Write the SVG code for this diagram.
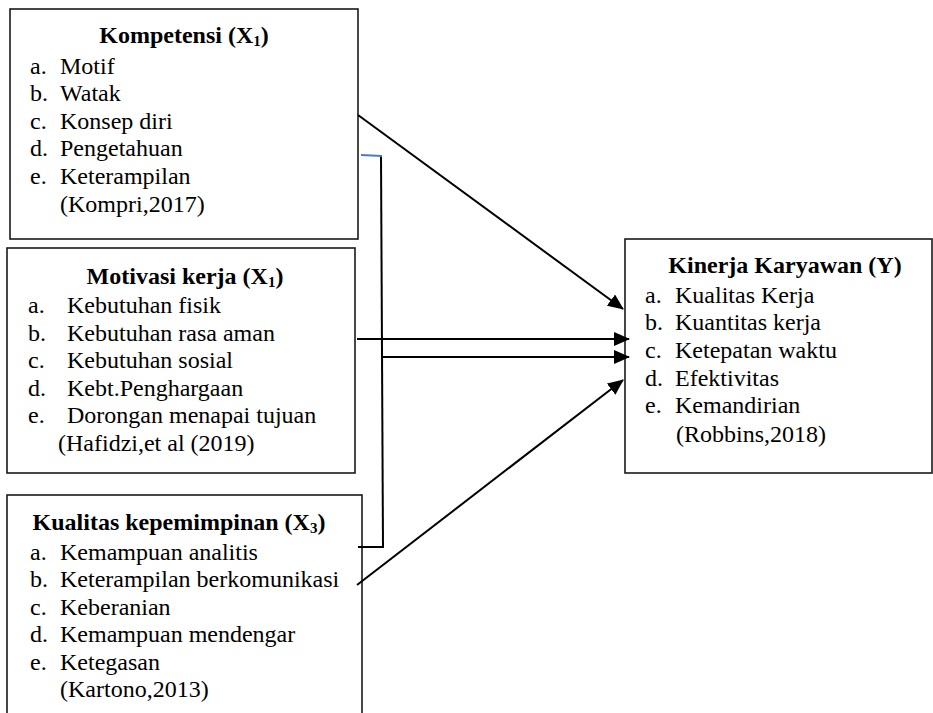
<svg xmlns="http://www.w3.org/2000/svg" width="933" height="713" viewBox="0 0 933 713">
<style>
.box{fill:#fff;stroke:#1a1a1a;stroke-width:1.6}
text{font-family:"Liberation Serif","Times New Roman",serif;font-size:24px;fill:#000}
.t{font-weight:bold;text-anchor:middle}
.sub{font-size:15px}
.c{stroke:#000;stroke-width:2;fill:none}
</style>
<defs>
<marker id="ah" markerUnits="userSpaceOnUse" markerWidth="16" markerHeight="14" refX="15" refY="7" orient="auto">
<path d="M0,0 L16,7 L0,14 z" fill="#000"/>
</marker>
</defs>
<rect width="933" height="713" fill="#fff"/>
<g id="kompetensi">
<rect class="box" x="10" y="9" width="348" height="230"/>
<text class="t" x="184" y="43">Kompetensi (X<tspan class="sub" dy="3">1</tspan><tspan dy="-3">)</tspan></text>
<text x="30" y="74">a.</text><text x="60" y="74">Motif</text>
<text x="30" y="101">b.</text><text x="60" y="101">Watak</text>
<text x="30" y="129">c.</text><text x="60" y="129">Konsep diri</text>
<text x="30" y="156">d.</text><text x="60" y="156">Pengetahuan</text>
<text x="30" y="184">e.</text><text x="60" y="184">Keterampilan</text>
<text x="60" y="212">(Kompri,2017)</text>
</g>
<g id="motivasi">
<rect class="box" x="7" y="248" width="348" height="225"/>
<text class="t" x="185" y="284">Motivasi kerja (X<tspan class="sub" dy="3">1</tspan><tspan dy="-3">)</tspan></text>
<text x="28" y="313">a.</text><text x="67" y="313">Kebutuhan fisik</text>
<text x="28" y="341">b.</text><text x="67" y="341">Kebutuhan rasa aman</text>
<text x="28" y="368">c.</text><text x="67" y="368">Kebutuhan sosial</text>
<text x="28" y="396">d.</text><text x="67" y="396">Kebt.Penghargaan</text>
<text x="28" y="423">e.</text><text x="67" y="423">Dorongan menapai tujuan</text>
<text x="58" y="451">(Hafidzi,et al (2019)</text>
</g>
<g id="kualitas">
<rect class="box" x="7" y="495" width="355" height="240"/>
<text class="t" x="179" y="530">Kualitas kepemimpinan (X<tspan class="sub" dy="3">3</tspan><tspan dy="-3">)</tspan></text>
<text x="30" y="560">a.</text><text x="60" y="560">Kemampuan analitis</text>
<text x="30" y="587">b.</text><text x="60" y="587">Keterampilan berkomunikasi</text>
<text x="30" y="615">c.</text><text x="60" y="615">Keberanian</text>
<text x="30" y="642">d.</text><text x="60" y="642">Kemampuan mendengar</text>
<text x="30" y="670">e.</text><text x="60" y="670">Ketegasan</text>
<text x="60" y="697">(Kartono,2013)</text>
</g>
<g id="kinerja">
<rect class="box" x="625" y="239" width="307" height="234"/>
<text class="t" x="785" y="273">Kinerja Karyawan (Y)</text>
<text x="645" y="303">a.</text><text x="675" y="303">Kualitas Kerja</text>
<text x="645" y="330">b.</text><text x="675" y="330">Kuantitas kerja</text>
<text x="645" y="358">c.</text><text x="675" y="358">Ketepatan waktu</text>
<text x="645" y="386">d.</text><text x="675" y="386">Efektivitas</text>
<text x="645" y="413">e.</text><text x="675" y="413">Kemandirian</text>
<text x="676" y="442">(Robbins,2018)</text>
</g>
<g id="connectors">
<line class="c" x1="358" y1="115" x2="623" y2="309" marker-end="url(#ah)"/>
<line class="c" x1="357" y1="339" x2="629" y2="339" marker-end="url(#ah)"/>
<line class="c" x1="382" y1="357" x2="629" y2="357" marker-end="url(#ah)"/>
<line class="c" x1="357" y1="585" x2="623" y2="380" marker-end="url(#ah)"/>
<line class="c" x1="381" y1="156" x2="383" y2="547"/>
<line x1="361" y1="155" x2="382" y2="156" stroke="#4a7ebb" stroke-width="2"/>
<line class="c" x1="358" y1="547" x2="384" y2="547"/>
</g>
</svg>
